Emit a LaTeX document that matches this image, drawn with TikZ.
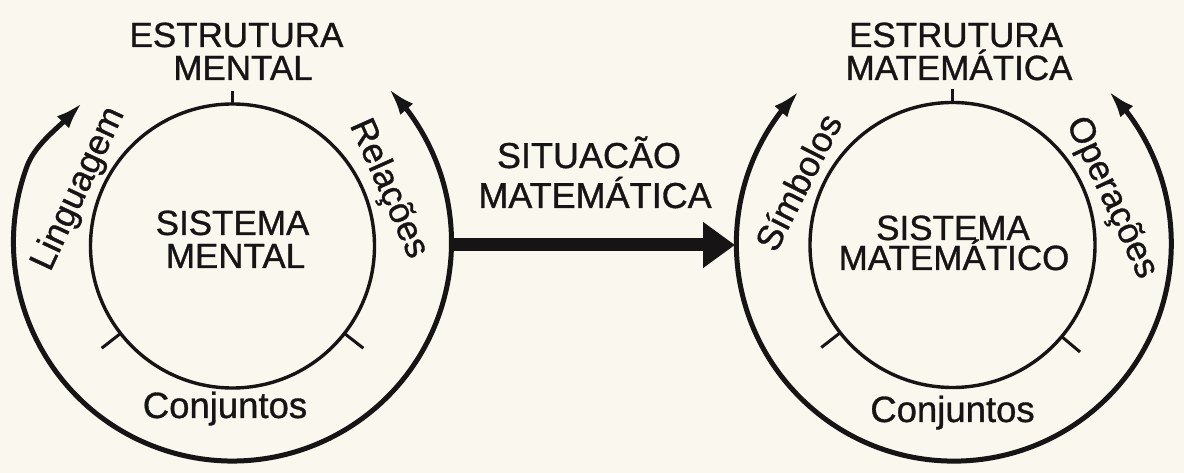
\documentclass[tikz,border=0pt]{standalone}
\usepackage{fontspec}
\setmainfont{Liberation Sans}[FakeBold=0.9]
\usetikzlibrary{arrows.meta,bending}
\definecolor{paper}{RGB}{250,247,238}
\definecolor{inkc}{RGB}{22,20,20}
\begin{document}
\begin{tikzpicture}[x=1pt,y=1pt,
  capslbl/.style={font=\fontsize{35}{40}\selectfont, text=inkc, inner sep=0pt, anchor=base},
  lowlbl/.style={font=\fontsize{36.5}{40}\selectfont, text=inkc, inner sep=0pt, anchor=base},
  arclbl/.style={font=\fontsize{35.5}{40}\selectfont, text=inkc, inner sep=0pt},
  innercirc/.style={circle, draw=inkc, line width=3.4pt, minimum size=#1, inner sep=0pt, outer sep=0pt},
  ghostcirc/.style={circle, minimum size=#1, inner sep=0pt, outer sep=0pt},
  tickmark/.style={draw=inkc, line width=3pt},
  outerarc/.style={draw=inkc, line width=5pt, {Latex[length=27pt,width=17pt]}-{Latex[length=27pt,width=17pt]}},
  bigarrow/.style={draw=inkc, line width=13pt, -{Triangle[length=32pt,width=44pt]}}
]
\useasboundingbox (0,0) rectangle (1184,473);
\fill[paper] (0,0) rectangle (1184,473);

% ---------- left diagram ----------
\coordinate (Lc) at (232.5,227);
\coordinate (Lo) at (232.5,231);
\node[innercirc=284pt] (lin) at (Lc) {};
\node[ghostcirc=438pt] (lout) at (Lo) {};
\coordinate (ltip) at (82,370);
\coordinate (lmid) at (26.7,305.9);
\draw[outerarc] (ltip) .. controls (64,348.4) and (36.3,332.2) .. (lmid)
   arc[start angle=160, end angle=404.4, radius=219];
\draw[tickmark] (lin.north) -- ++(0,13);
\draw[tickmark] (lin.218) -- ++(218:24);
\draw[tickmark] (lin.322) -- ++(322:24);

\node[capslbl] (lt1) at (236.5,426) {ESTRUTURA};
\node[capslbl] (lt2) at (243,393) {MENTAL};
\node[capslbl] (lc1) at (232.5,238) {SISTEMA};
\node[capslbl] (lc2) at (235.5,205) {MENTAL};
\node[lowlbl] (lb) at (225,55) {Conjuntos};
\node[arclbl, rotate=65] (lling) at (79,284) {Linguagem};
\node[arclbl, rotate=-66] (lrel) at (388,284) {Relações};

% ---------- right diagram ----------
\coordinate (Rc) at (952.5,228);
\node[innercirc=285pt] (rin) at (Rc) {};
\node[ghostcirc=435pt] (rout) at (Rc) {};
\draw[outerarc] (rout.135.5) arc[start angle=135.5, end angle=404.5, radius=217.5];
\draw[tickmark] (rin.north) -- ++(0,13);
\draw[tickmark] (rin.218) -- ++(218:24);
\draw[tickmark] (rin.320) -- ++(320:24);

\node[capslbl] (rt1) at (956,426) {ESTRUTURA};
\node[capslbl] (rt2) at (959,393) {MATEMÁTICA};
\node[capslbl] (rc1) at (953,233) {SISTEMA};
\node[capslbl] (rc2) at (954,203) {MATEMÁTICO};
\node[lowlbl] (rb) at (952.5,51) {Conjuntos};
\node[arclbl, rotate=63] (rsim) at (798,291) {Símbolos};
\node[arclbl, rotate=-65] (rop) at (1111,275) {Operações};

% ---------- middle ----------
\coordinate (ay) at (0,228);
\draw[bigarrow] (lout.east |- ay) -- (rout.west |- ay);
\node[capslbl, font=\fontsize{36}{40}\selectfont] (m1) at (589,305) {SITUACÃO};
\node[capslbl, font=\fontsize{36}{40}\selectfont] (m2) at (595,265) {MATEMÁTICA};
\end{tikzpicture}
\end{document}
